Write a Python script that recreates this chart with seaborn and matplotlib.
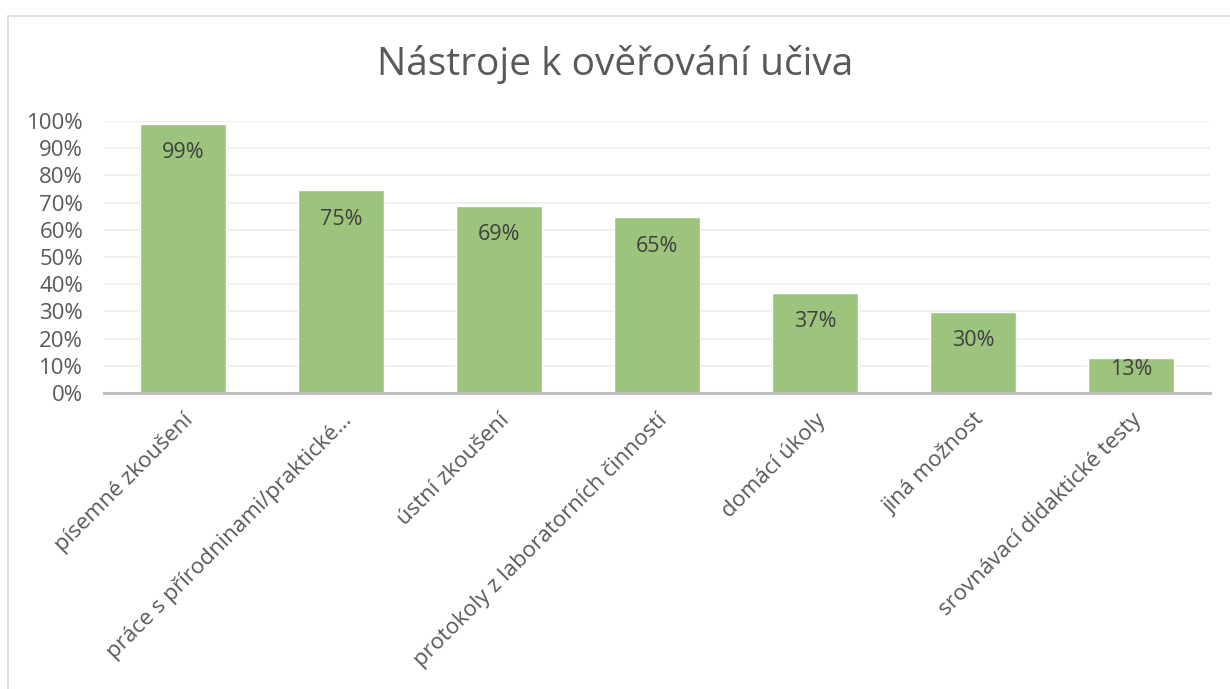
import matplotlib
matplotlib.use("Agg")
import matplotlib.pyplot as plt
import seaborn as sns
import pandas as pd
from matplotlib.patches import Rectangle

categories = ["písemné zkoušení", "práce s přírodninami/praktické…", "ústní zkoušení",
              "protokoly z laboratorních činností", "domácí úkoly", "jiná možnost",
              "srovnávací didaktické testy"]
values = [0.99, 0.746, 0.688, 0.646, 0.368, 0.298, 0.127]
yticks = [0, 0.1, 0.2, 0.3, 0.4, 0.5, 0.6, 0.7, 0.8, 0.9, 1.0]
title = "Nástroje k ověřování učiva"

sns.set_theme(style="white")
plt.rcParams['font.family'] = ['Open Sans', 'DejaVu Sans']

df = pd.DataFrame({"cat": categories, "val": values})

fig = plt.figure(figsize=(12.3, 6.89), dpi=100)
ax = fig.add_axes([104/1230, 1-393/689, 1106/1230, 272/689])

sns.barplot(data=df, x="cat", y="val", color="#9DC47D", saturation=1, width=0.55, ax=ax)

ax.set_ylim(0, 1.0)
ax.set_xlim(-0.5, len(categories)-0.5)
ax.set_yticks(yticks)
ax.set_yticklabels([f"{t*100:.0f}%" for t in yticks], color="#595959", fontsize=16)
ax.tick_params(axis='y', length=0, pad=15)
ax.tick_params(axis='x', length=0, pad=12)
ax.set_xticks(range(len(categories)))
ax.set_xticklabels(categories, rotation=45, ha='right', rotation_mode='anchor',
                   color="#595959", fontsize=16)
ax.set_xlabel("")
ax.set_ylabel("")
ax.yaxis.grid(True, color="#EDEDED", linewidth=1.2)
ax.set_axisbelow(True)
for s in ["top", "right", "left"]:
    ax.spines[s].set_visible(False)
ax.spines["bottom"].set_color("#BFBFBF")
ax.spines["bottom"].set_linewidth(2.2)

for i, v in enumerate(values):
    y = max(v - 0.1066, 0.088)
    ax.text(i, y, f"{v*100:.0f}%", ha='center', va='center', color="#404040", fontsize=15.5)

fig.text(0.5, 1-64/689, title, ha='center', va='center', color="#595959", fontsize=28)

fig.patches.append(Rectangle((8/1230, -0.1), 1.2, 1-16/689+0.1, transform=fig.transFigure,
                             fill=False, edgecolor="#D9D9D9", linewidth=1.2, figure=fig))

fig.savefig("out.png", dpi=100)
